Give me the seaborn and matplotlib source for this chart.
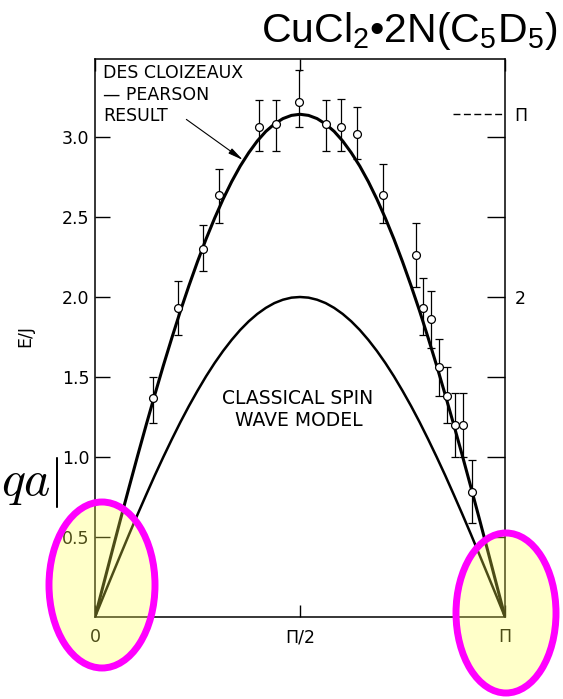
import numpy as np
import pandas as pd
import matplotlib
matplotlib.use('Agg')
import matplotlib.pyplot as plt
import seaborn as sns
from matplotlib.patches import Ellipse

# measured points (q in rad, E/J), with lower / upper ends of the error bars
q_data = [0.442, 0.638, 0.825, 0.950, 1.259, 1.387, 1.563, 1.768, 1.887, 2.010,
          2.204, 2.458, 2.515, 2.575, 2.634, 2.697, 2.759, 2.822, 2.891]
e_data = [1.37, 1.93, 2.30, 2.64, 3.06, 3.08, 3.22, 3.08, 3.06, 3.02,
          2.64, 2.26, 1.93, 1.86, 1.56, 1.38, 1.20, 1.20, 0.78]
e_low = [1.21, 1.76, 2.16, 2.46, 2.91, 2.91, 3.06, 2.91, 2.91, 2.86,
         2.46, 2.06, 1.76, 1.68, 1.38, 1.21, 1.00, 1.00, 0.59]
e_high = [1.50, 2.10, 2.45, 2.80, 3.23, 3.23, 3.42, 3.23, 3.24, 3.19,
          2.83, 2.46, 2.12, 2.04, 1.74, 1.56, 1.40, 1.40, 0.98]

# curves read at 49 evenly spaced q from 0 to pi
q_curve = np.linspace(0, np.pi, 49)
dcp_curve = [0.000, 0.205, 0.410, 0.613, 0.813, 1.010, 1.202, 1.389, 1.571, 1.745,
             1.913, 2.071, 2.221, 2.362, 2.492, 2.612, 2.721, 2.818, 2.902, 2.975,
             3.035, 3.081, 3.115, 3.135, 3.142,
             3.135, 3.115, 3.081, 3.035, 2.975, 2.902, 2.818, 2.721, 2.612, 2.492,
             2.362, 2.221, 2.071, 1.913, 1.745, 1.571, 1.389, 1.202, 1.010, 0.813,
             0.613, 0.410, 0.205, 0.000]
classical_curve = [0.000, 0.131, 0.261, 0.390, 0.518, 0.643, 0.765, 0.885, 1.000, 1.111,
                   1.218, 1.319, 1.414, 1.504, 1.587, 1.663, 1.732, 1.794, 1.848, 1.894,
                   1.932, 1.962, 1.983, 1.996, 2.000,
                   1.996, 1.983, 1.962, 1.932, 1.894, 1.848, 1.794, 1.732, 1.663, 1.587,
                   1.504, 1.414, 1.319, 1.218, 1.111, 1.000, 0.885, 0.765, 0.643, 0.518,
                   0.390, 0.261, 0.131, 0.000]

y_ticks = [0.5, 1.0, 1.5, 2.0, 2.5, 3.0]
y_ticklabels = ['0.5', '1.0', '1.5', '2.0', '2.5', '3.0']
x_ticks = [0, np.pi / 2, np.pi]
x_ticklabels = ['0', 'Π/2', 'Π']

df_pts = pd.DataFrame({'q': q_data, 'E': e_data})
df_curves = pd.DataFrame({'q': q_curve, 'dcp': dcp_curve, 'cl': classical_curve})

sns.set_style('ticks')
plt.rcParams['font.family'] = ['DejaVu Sans']
plt.rcParams['text.color'] = 'black'
plt.rcParams['xtick.color'] = 'black'
plt.rcParams['ytick.color'] = 'black'
plt.rcParams['axes.labelcolor'] = 'black'
plt.rcParams['mathtext.fontset'] = 'custom'
plt.rcParams['mathtext.rm'] = 'Liberation Sans'
plt.rcParams['mathtext.it'] = 'Liberation Sans:italic'

W, H = 563, 699
fig = plt.figure(figsize=(W / 100, H / 100), dpi=100)


def fx(x):
    return x / W


def fy(y):
    return 1 - y / H


ax = fig.add_axes([fx(95), fy(617), fx(505) - fx(95), fy(59) - fy(617)])
ax.set_xlim(0, np.pi)
ax.set_ylim(0, 3.4875)

sns.lineplot(data=df_curves, x='q', y='dcp', ax=ax, color='black', lw=2.2, sort=False)
sns.lineplot(data=df_curves, x='q', y='cl', ax=ax, color='black', lw=1.8, sort=False)

lo = np.array(e_data) - np.array(e_low)
hi = np.array(e_high) - np.array(e_data)
ax.errorbar(q_data, e_data, yerr=[lo, hi], fmt='none', ecolor='black',
            elinewidth=0.9, capsize=3.2, capthick=0.9, zorder=3)
sns.scatterplot(data=df_pts, x='q', y='E', ax=ax, marker='o', s=32,
                facecolor='white', edgecolor='black', linewidth=0.9, zorder=4)

# spines / ticks
for s in ax.spines.values():
    s.set_linewidth(1.1)
    s.set_color('black')
ax.set_yticks(y_ticks, y_ticklabels)
ax.set_xticks(x_ticks, x_ticklabels)
ax.tick_params(axis='y', direction='in', length=11, width=1, pad=4, labelsize=12.5)
ax.tick_params(axis='x', direction='in', length=8.5, width=1, pad=8, labelsize=12.5, top=True)
ax.set_xlabel('')
ax.set_ylabel('')

ax2 = ax.twinx()
ax2.set_ylim(ax.get_ylim())
ax2.set_yticks(y_ticks + [np.pi], ['', '', '', '2', '', '', 'Π'])
ax2.tick_params(axis='y', direction='in', length=13, width=1, pad=7, labelsize=12.5)
ax2.yaxis.get_major_ticks()[-1].tick2line.set_visible(False)
for s in ax2.spines.values():
    s.set_visible(False)
ax.axhline(np.pi, xmin=0.873, xmax=0.993, color='black', lw=1, ls=(0, (5, 2.5)))

# annotations
ax.annotate('', xy=(1.134, 2.856), xytext=(0.700, 3.11),
            arrowprops=dict(arrowstyle='-|>,head_length=0.9,head_width=0.18',
                            color='black', lw=0.8, shrinkA=0, shrinkB=0))
fig.text(fx(103), fy(73), 'DES CLOIZEAUX', fontsize=12.5, va='center', ha='left')
fig.text(fx(103), fy(95), '— PEARSON', fontsize=12.5, va='center', ha='left')
fig.text(fx(103), fy(116), 'RESULT', fontsize=12.5, va='center', ha='left')
fig.text(fx(298), fy(398), 'CLASSICAL SPIN', fontsize=13.5, va='center', ha='center')
fig.text(fx(299), fy(420), 'WAVE MODEL', fontsize=13.5, va='center', ha='center')
fig.text(fx(25), fy(336), 'E/J', fontsize=12.5, rotation=90, va='center', ha='center')

fig.text(fx(557), fy(42), 'CuCl$_2$•2N(C$_5$D$_5$)', fontsize=29.5,
         family='Liberation Sans', ha='right', va='baseline')
fig.text(fx(1), fy(483), r'$qa|$', fontsize=36, math_fontfamily='cm',
         ha='left', va='center')

# highlighted corners
for cx, cy, w, h in [(102, 585, 106, 166), (506, 613, 100, 160)]:
    e = Ellipse((fx(cx), fy(cy)), w / W, h / H, transform=fig.transFigure,
                facecolor=(1.0, 1.0, 0.3, 0.3), edgecolor='#ff00ff', lw=5, zorder=10)
    fig.add_artist(e)

fig.savefig('out.png', dpi=100)
